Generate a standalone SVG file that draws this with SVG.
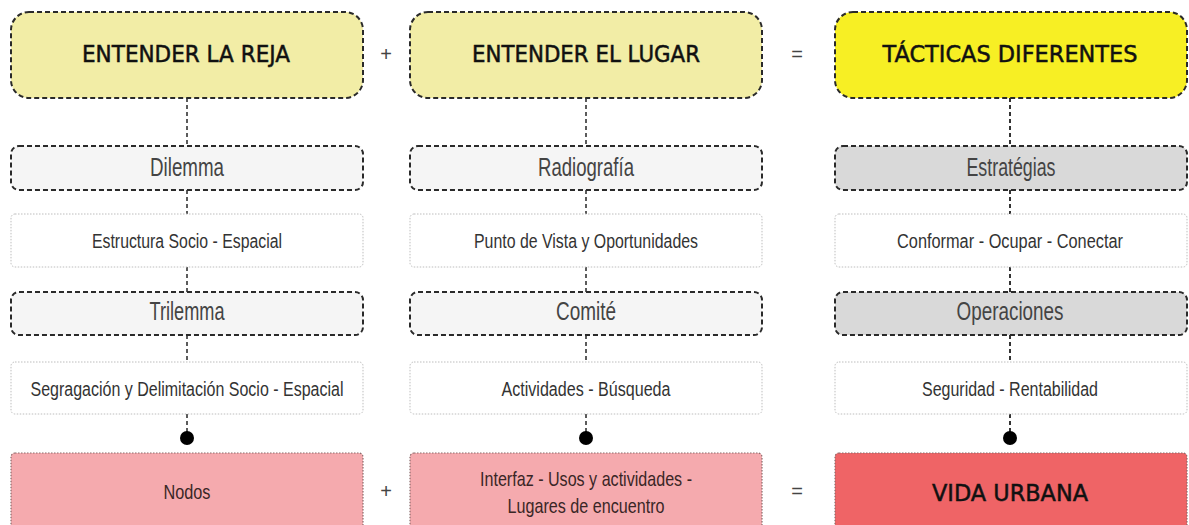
<svg xmlns="http://www.w3.org/2000/svg" width="1189" height="525" viewBox="0 0 1189 525">
<style>
.head{stroke:#2a2a2a;stroke-width:2;stroke-dasharray:5 3}
.sub{stroke:#2a2a2a;stroke-width:2;stroke-dasharray:5 3}
.thin{fill:#fff;stroke:#bdbdbd;stroke-width:1;stroke-dasharray:1.5 1.5}
.bot{stroke:#8a6a6a;stroke-width:1.2;stroke-dasharray:1.5 1.5}
.conn{stroke:#333;stroke-width:1.6;stroke-dasharray:4 3;fill:none}
.ht{font-family:"DejaVu Sans","Liberation Sans",sans-serif;font-size:23px;fill:#111;stroke:#111;stroke-width:0.5;text-anchor:middle}
.st{font-family:"Liberation Sans",sans-serif;font-size:26px;fill:#444;text-anchor:middle}
.tt{font-family:"Liberation Sans",sans-serif;font-size:20px;fill:#333;text-anchor:middle}
.bt{font-family:"Liberation Sans",sans-serif;font-size:21px;fill:#3a2626;text-anchor:middle}
.op{font-family:"Liberation Sans",sans-serif;font-size:20px;fill:#444;text-anchor:middle}
</style>
<rect width="1189" height="525" fill="#fff"/>
<g id="connectors">
<line class="conn" x1="187" y1="98" x2="187" y2="146"/>
<line class="conn" x1="187" y1="190" x2="187" y2="214"/>
<line class="conn" x1="187" y1="267" x2="187" y2="292"/>
<line class="conn" x1="187" y1="335" x2="187" y2="362"/>
<line class="conn" x1="187" y1="414" x2="187" y2="432"/>
<circle cx="187" cy="438" r="7" fill="#000"/>
<line class="conn" x1="586" y1="98" x2="586" y2="146"/>
<line class="conn" x1="586" y1="190" x2="586" y2="214"/>
<line class="conn" x1="586" y1="267" x2="586" y2="292"/>
<line class="conn" x1="586" y1="335" x2="586" y2="362"/>
<line class="conn" x1="586" y1="414" x2="586" y2="432"/>
<circle cx="586" cy="438" r="7" fill="#000"/>
<line class="conn" x1="1010" y1="98" x2="1010" y2="146" style="stroke-width:2"/>
<line class="conn" x1="1010" y1="190" x2="1010" y2="214" style="stroke-width:2"/>
<line class="conn" x1="1010" y1="267" x2="1010" y2="292" style="stroke-width:2"/>
<line class="conn" x1="1010" y1="335" x2="1010" y2="362" style="stroke-width:2"/>
<line class="conn" x1="1010" y1="414" x2="1010" y2="432" style="stroke-width:2"/>
<circle cx="1010" cy="438" r="7" fill="#000"/>
</g>
<g id="ops">
<text class="op" x="386" y="61">+</text>
<text class="op" x="797" y="61">=</text>
<text class="op" x="386" y="498">+</text>
<text class="op" x="797" y="498">=</text>
</g>
<g id="n-reja"><rect class="head" x="11" y="12" width="352" height="86" rx="18" fill="#f2eda6"/><text class="ht" x="186" y="62" textLength="208" lengthAdjust="spacingAndGlyphs">ENTENDER LA REJA</text></g>
<g id="n-lugar"><rect class="head" x="410" y="12" width="352" height="86" rx="18" fill="#f2eda6"/><text class="ht" x="586" y="62" textLength="228" lengthAdjust="spacingAndGlyphs">ENTENDER EL LUGAR</text></g>
<g id="n-tacticas"><rect class="head" x="835" y="12" width="352" height="86" rx="18" fill="#f7ef24"/><text class="ht" x="1010" y="62" textLength="255" lengthAdjust="spacingAndGlyphs">TÁCTICAS DIFERENTES</text></g>
<g id="n-dilemma"><rect class="sub" x="11" y="146" width="352" height="44" rx="8" fill="#f5f5f5"/><text class="st" x="187" y="176" textLength="74" lengthAdjust="spacingAndGlyphs">Dilemma</text></g>
<g id="n-radiografia"><rect class="sub" x="410" y="146" width="352" height="44" rx="8" fill="#f5f5f5"/><text class="st" x="586" y="176" textLength="96" lengthAdjust="spacingAndGlyphs">Radiografía</text></g>
<g id="n-estrategias"><rect class="sub" x="835" y="146" width="352" height="44" rx="8" fill="#d9d9d9"/><text class="st" x="1011" y="176" textLength="89" lengthAdjust="spacingAndGlyphs">Estratégias</text></g>
<g id="n-estructura"><rect class="thin" x="11" y="214" width="352" height="53" rx="4"/><text class="tt" x="187" y="248" textLength="190" lengthAdjust="spacingAndGlyphs">Estructura Socio - Espacial</text></g>
<g id="n-punto"><rect class="thin" x="410" y="214" width="352" height="53" rx="4"/><text class="tt" x="586" y="248" textLength="224" lengthAdjust="spacingAndGlyphs">Punto de Vista y Oportunidades</text></g>
<g id="n-conformar"><rect class="thin" x="835" y="214" width="352" height="53" rx="4"/><text class="tt" x="1010" y="248" textLength="226" lengthAdjust="spacingAndGlyphs">Conformar - Ocupar - Conectar</text></g>
<g id="n-trilemma"><rect class="sub" x="11" y="292" width="352" height="43" rx="8" fill="#f5f5f5"/><text class="st" x="187" y="320" textLength="75" lengthAdjust="spacingAndGlyphs">Trilemma</text></g>
<g id="n-comite"><rect class="sub" x="410" y="292" width="352" height="43" rx="8" fill="#f5f5f5"/><text class="st" x="586" y="320" textLength="60" lengthAdjust="spacingAndGlyphs">Comité</text></g>
<g id="n-operaciones"><rect class="sub" x="835" y="292" width="352" height="43" rx="8" fill="#d9d9d9"/><text class="st" x="1010" y="320" textLength="107" lengthAdjust="spacingAndGlyphs">Operaciones</text></g>
<g id="n-segragacion"><rect class="thin" x="11" y="362" width="352" height="52" rx="4"/><text class="tt" x="187" y="396" textLength="313" lengthAdjust="spacingAndGlyphs">Segragación y Delimitación Socio - Espacial</text></g>
<g id="n-actividades"><rect class="thin" x="410" y="362" width="352" height="52" rx="4"/><text class="tt" x="586" y="396" textLength="169" lengthAdjust="spacingAndGlyphs">Actividades - Búsqueda</text></g>
<g id="n-seguridad"><rect class="thin" x="835" y="362" width="352" height="52" rx="4"/><text class="tt" x="1010" y="396" textLength="176" lengthAdjust="spacingAndGlyphs">Seguridad - Rentabilidad</text></g>
<g id="n-nodos"><rect class="bot" x="11" y="453" width="352" height="80" rx="4" fill="#f5aaae"/><text class="bt" x="187" y="499" textLength="47" lengthAdjust="spacingAndGlyphs">Nodos</text></g>
<g id="n-interfaz"><rect class="bot" x="410" y="453" width="352" height="80" rx="4" fill="#f5aaae"/><text class="bt" x="586" y="486" textLength="212" lengthAdjust="spacingAndGlyphs">Interfaz - Usos y actividades -</text><text class="bt" x="586" y="513" textLength="157" lengthAdjust="spacingAndGlyphs">Lugares de encuentro</text></g>
<g id="n-vida"><rect class="bot" x="835" y="453" width="352" height="80" rx="4" fill="#ef6466"/><text class="ht" x="1010" y="501" textLength="156" lengthAdjust="spacingAndGlyphs">VIDA URBANA</text></g>
</svg>
